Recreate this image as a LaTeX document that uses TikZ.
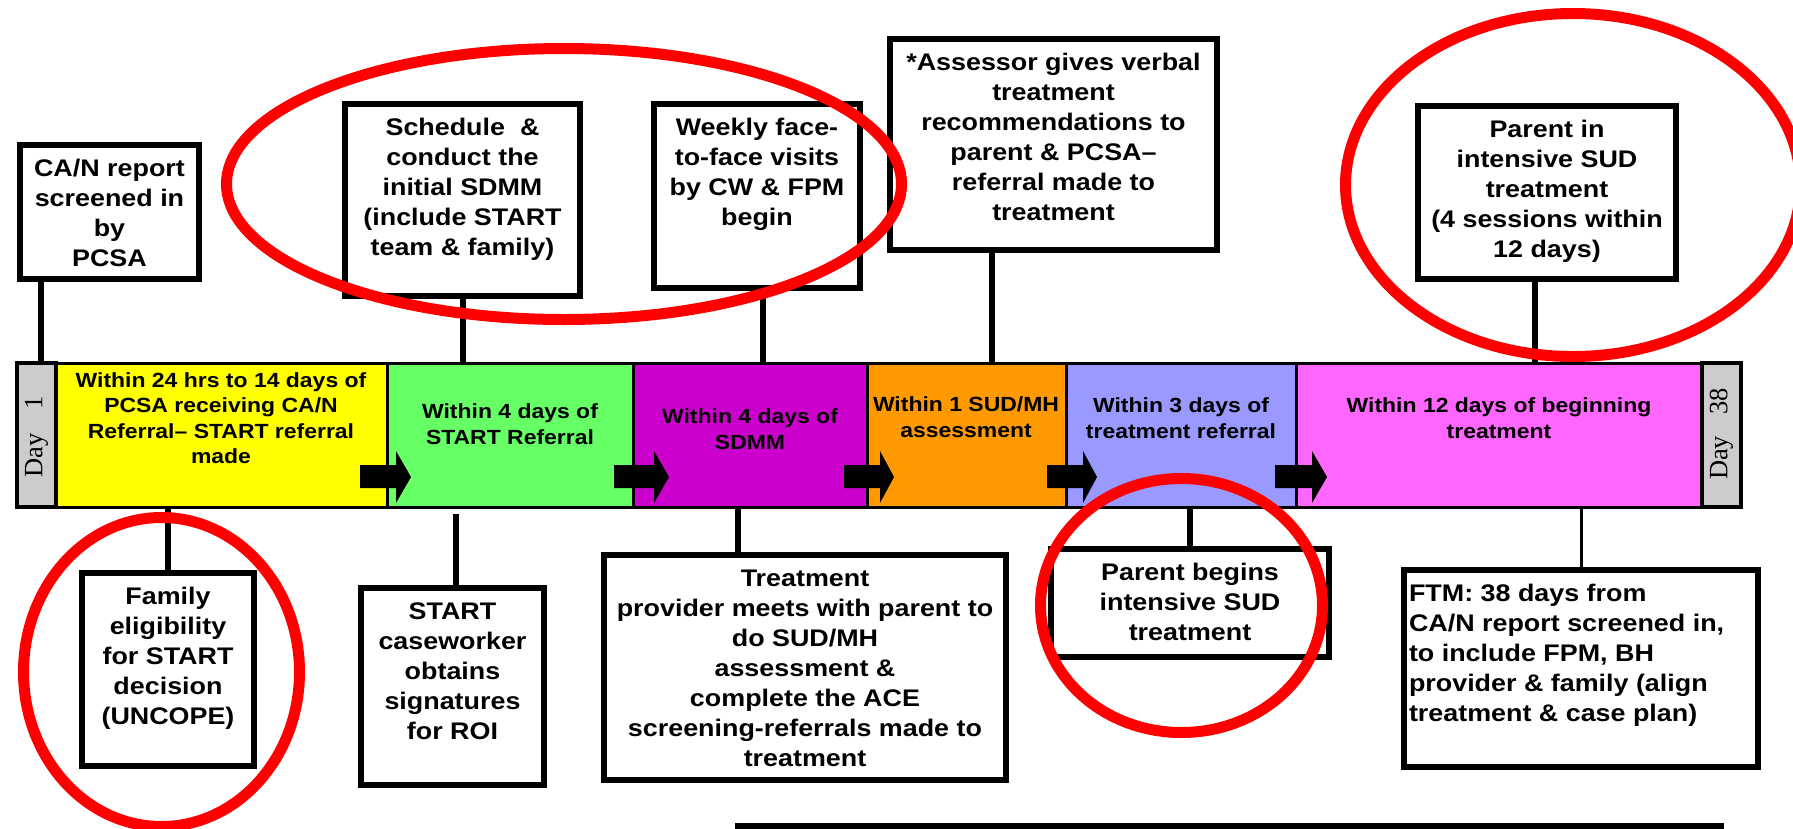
\documentclass[tikz,border=0pt]{standalone}
\usepackage{fontspec}
\setmainfont{Liberation Sans}[FakeStretch=1.12]
\newfontfamily\dayfamily{Liberation Serif}
\usepackage{xcolor}
\usepackage{tikz}
\usetikzlibrary{positioning}

\definecolor{segyellow}{HTML}{FFFF00}
\definecolor{seggreen}{HTML}{66FF66}
\definecolor{segpurple}{HTML}{CC00CC}
\definecolor{segorange}{HTML}{FF9900}
\definecolor{seglav}{HTML}{9999FF}
\definecolor{segpink}{HTML}{FF66FF}
\definecolor{daygray}{HTML}{CCCCCC}
\definecolor{ringred}{HTML}{FF0000}

\newcommand{\boxfont}{\fontsize{24}{30}\selectfont\bfseries}
\newcommand{\barfont}{\fontsize{20.5}{25.5}\selectfont\bfseries}
\newcommand{\dayfont}{\dayfamily\fontsize{26.5}{26.5}\selectfont}
\newcommand{\cardbody}[4][\centering]{\parbox[c][#3][t]{#2}{#1\vspace*{10pt}\strut #4\par}}

\tikzset{
  card/.style={draw, line width=6pt, fill=white, inner sep=0pt, outer sep=0pt, anchor=north, font=\boxfont},
  seg/.style={draw, line width=3pt, inner sep=0pt, outer sep=0pt, minimum height=144pt, anchor=west},
  daybox/.style={seg, fill=daygray, line width=4pt, minimum width=39pt},
  stem/.style={line width=5.5pt},
  ring/.style={draw=ringred, line width=11pt},
  bartext/.style={align=center, inner sep=0pt, font=\barfont},
  daytext/.style={rotate=90, inner sep=0pt, font=\dayfont}
}

\begin{document}
\begin{tikzpicture}[x=1pt,y=-1pt]
\useasboundingbox (0,0) rectangle (1793,828);
\clip (0,0) rectangle (1793,828);

% timeline
\node[daybox] at (17,435) (d1) {};
\node[seg, fill=segyellow, minimum width=331pt, right=0pt of d1] (s1) {};
\node[seg, fill=seggreen, minimum width=246pt, right=0pt of s1] (s2) {};
\node[seg, fill=segpurple, minimum width=234pt, right=0pt of s2] (s3) {};
\node[seg, fill=segorange, minimum width=199pt, right=0pt of s3] (s4) {};
\node[seg, fill=seglav, minimum width=230pt, right=0pt of s4] (s5) {};
\node[seg, fill=segpink, minimum width=406pt, right=0pt of s5] (s6) {};
\node[daybox, right=0pt of s6] (d38) {};

\foreach \xa/\xb/\xc in {360/396/411, 614/654/669, 844/880/894, 1047/1083/1097, 1275/1312/1327}
  \fill (\xa,465) -- (\xb,465) -- (\xb,451) -- (\xc,477) -- (\xb,503) -- (\xb,488) -- (\xa,488) -- cycle;

\node[bartext] at (221,418) (t1) {Within 24 hrs to 14 days of\\PCSA receiving CA/N\\Referral– START referral\\made};
\node[bartext] at (510,424) (t2) {Within 4 days of\\START Referral};
\node[bartext] at (750,429) (t3) {Within 4 days of\\SDMM};
\node[bartext] at (966,417) (t4) {Within 1 SUD/MH\\assessment};
\node[bartext] at (1181,418) (t5) {Within 3 days of\\treatment referral};
\node[bartext] at (1499,418) (t6) {Within 12 days of beginning\\treatment};

\node[daytext] at (36.5,437) (day1) {Day\hspace{0.9em}1};
\node[daytext] at (1721.5,434) (day38) {Day\hspace{0.8em}38};

% boxes above
\node[card] at (109.5,145) (can) {\cardbody{179pt}{134pt}{CA/N report\\screened in\\by\\PCSA}};
\node[card] at (462.5,104) (sched) {\cardbody{235pt}{192pt}{Schedule~ \&\\conduct the\\initial SDMM\\(include START\\team \& family)}};
\node[card] at (757,104) (weekly) {\cardbody{206pt}{184pt}{Weekly face-\\to-face visits\\by CW \& FPM\\begin}};
\node[card] at (1053.5,39) (assess) {\cardbody{327pt}{211pt}{*Assessor gives verbal\\treatment\\recommendations to\\parent \& PCSA–\\referral made to\\treatment}};
\node[card] at (1547,106) (parentin) {\cardbody{258pt}{173pt}{Parent in\\intensive SUD\\treatment\\(4 sessions within\\12 days)}};

% boxes below
\node[card] at (168,573) (family) {\cardbody{172pt}{193pt}{Family\\eligibility\\for START\\decision\\(UNCOPE)}};
\node[card] at (452.5,588) (start) {\cardbody{183pt}{197pt}{START\\caseworker\\obtains\\signatures\\for ROI}};
\node[card] at (805,555) (treat) {\cardbody{402pt}{225pt}{Treatment\\provider meets with parent to\\do SUD/MH\\assessment \&\\complete the ACE\\screening-referrals made to\\treatment}};
\node[card] at (1190,549) (begins) {\cardbody{278pt}{108pt}{Parent begins\\intensive SUD\\treatment}};
\node[card] at (1581,570) (ftm) {\cardbody[\raggedright\leftskip=5pt\relax]{354pt}{197pt}{FTM: 38 days from\\CA/N report screened in,\\to include FPM, BH\\provider \& family (align\\treatment \& case plan)}};

% stems
\draw[stem] (41,0 |- can.south) -- (41,0 |- d1.north);
\draw[stem] (463,0 |- sched.south) -- (463,0 |- s2.north);
\draw[stem] (763,0 |- weekly.south) -- (763,0 |- s3.north);
\draw[stem] (992,0 |- assess.south) -- (992,0 |- s4.north);
\draw[stem] (1535,0 |- parentin.south) -- (1535,0 |- s6.north);
\draw[stem] (168,0 |- s1.south) -- (family.north);
\draw[stem] (456,514) -- (456,0 |- start.north);
\draw[stem] (738,0 |- s3.south) -- (738,0 |- treat.north);
\draw[stem] (1190,0 |- s5.south) -- (begins.north);
\draw[line width=3pt] (1581,0 |- s6.south) -- (ftm.north);

\fill (735,823) rectangle (1724,835);

% red rings
\draw[ring] (564,184) ellipse [x radius=337.5pt, y radius=135.5pt];
\draw[ring] (1573,185) ellipse [x radius=227.5pt, y radius=171.5pt];
\draw[ring] (161.5,672) ellipse [x radius=138pt, y radius=154.5pt];
\draw[ring] (1181.5,605.5) ellipse [x radius=141pt, y radius=127pt];
\end{tikzpicture}
\end{document}
